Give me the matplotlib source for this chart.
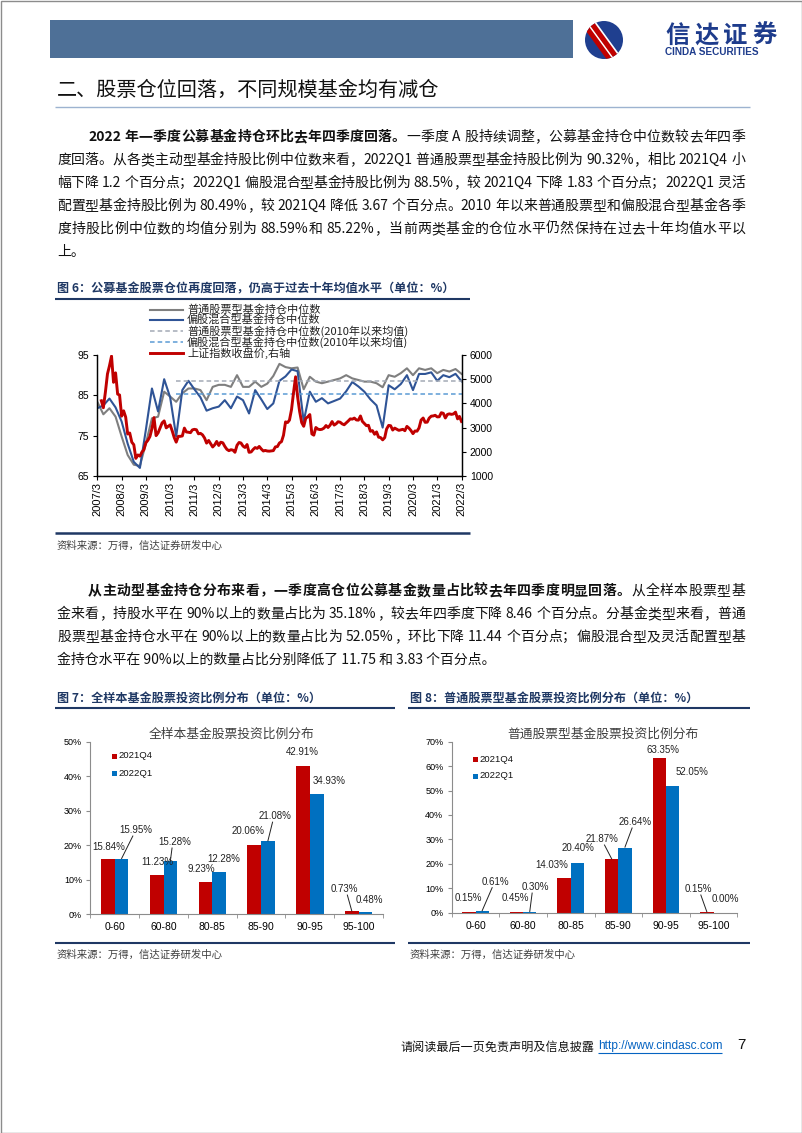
import re
import matplotlib
matplotlib.use("Agg")
import numpy as np
import pandas as pd
import matplotlib.pyplot as plt
from matplotlib.patches import Rectangle, Circle

W, H = 802, 1133
CJK = ["Noto Sans CJK SC", "DejaVu Sans"]
SANS = ["Liberation Sans", "DejaVu Sans"]
plt.rcParams["font.family"] = CJK
plt.rcParams["axes.unicode_minus"] = False

RED = "#C00000"
BLUE = "#0070C0"
NAVY = "#1F3864"

# ---- fig 6: quarterly median equity position (%), 2007Q1 .. 2022Q1
stock_fund_pos = [83.4, 80.3, 81.8, 79.7, 74.8, 70.2, 67.8, 67.5, 73.1, 79.3,
                  79.7, 85.9, 84.7, 83.4, 85.5, 86.7, 86.7, 86.3, 83.8, 87.1,
                  87.6, 87.6, 87.1, 90.0, 87.1, 87.1, 88.4, 87.1, 87.9, 89.8,
                  92.8, 92.0, 91.7, 91.9, 86.5, 89.6, 88.4, 88.0, 88.4, 88.8,
                  89.2, 90.0, 89.2, 88.8, 88.4, 88.4, 88.0, 87.0, 90.0, 89.6,
                  90.5, 91.7, 90.0, 91.7, 91.3, 91.7, 90.5, 91.3, 90.9, 91.52,
                  90.32]
hybrid_fund_pos = [81.8, 82.5, 84.2, 82.0, 78.5, 73.0, 68.5, 67.0, 76.5, 86.7,
                   81.0, 89.0, 84.5, 74.8, 86.3, 88.6, 86.5, 84.5, 81.2, 81.8,
                   82.2, 83.8, 81.8, 84.7, 83.8, 80.5, 86.3, 84.0, 81.6, 83.0,
                   88.6, 89.7, 91.4, 91.0, 78.5, 85.9, 83.4, 84.3, 83.0, 83.6,
                   84.2, 86.0, 88.3, 87.2, 85.9, 84.0, 82.5, 77.0, 87.5, 86.5,
                   87.8, 90.0, 86.3, 90.3, 90.3, 90.7, 88.6, 90.0, 89.5, 90.33,
                   88.5]
stock_mean_2010 = 88.59
hybrid_mean_2010 = 85.22

# Shanghai composite, monthly, from 2007/5
sh_2007 = [4109, 3820, 4471, 5218, 5552, 5954, 4871, 5262]
sh_2008 = [4383, 4348, 3473, 3693, 3433, 2736, 2775, 2397, 2293, 1729, 1871, 1821]
sh_2009 = [1991, 2082, 2373, 2477, 2633, 2959, 3412, 2667, 2779, 2996, 3195, 3277]
sh_2010 = [2989, 3051, 3110, 2871, 2592, 2398, 2638, 2639, 2655, 2979, 2820, 2808]
sh_2011 = [2791, 2905, 2928, 2911, 2743, 2762, 2701, 2568, 2359, 2468, 2333, 2199]
sh_2012 = [2292, 2428, 2262, 2396, 2373, 2225, 2103, 2047, 2086, 2069, 1980, 2269]
sh_2013 = [2385, 2365, 2237, 2178, 2300, 1979, 1994, 2098, 2175, 2141, 2220, 2116]
sh_2014 = [2033, 2056, 2033, 2026, 2039, 2048, 2202, 2217, 2364, 2420, 2683, 3235]
sh_2015 = [3210, 3310, 3748, 4442, 5100, 4277, 3664, 3206, 3053, 3383, 3445, 3539]
sh_2016 = [2738, 2688, 3004, 2938, 2917, 2930, 2979, 3085, 3005, 3100, 3250, 3104]
sh_2017 = [3159, 3242, 3223, 3155, 3117, 3192, 3273, 3361, 3349, 3393, 3317, 3307]
sh_2018 = [3481, 3259, 3169, 3082, 3095, 2847, 2876, 2725, 2821, 2603, 2588, 2494]
sh_2019 = [2585, 2941, 3091, 3078, 2899, 2979, 2933, 2886, 2905, 2929, 2872, 3050]
sh_2020 = [2977, 2880, 2750, 2860, 2852, 2985, 3310, 3396, 3218, 3225, 3392, 3473]
sh_2021 = [3483, 3509, 3442, 3447, 3615, 3591, 3397, 3544, 3568, 3547, 3564, 3640]
sh_2022 = [3361, 3462, 3253]
sh_index = (sh_2007 + sh_2008 + sh_2009 + sh_2010 + sh_2011 + sh_2012 + sh_2013
            + sh_2014 + sh_2015 + sh_2016 + sh_2017 + sh_2018 + sh_2019
            + sh_2020 + sh_2021 + sh_2022)

line_labels = ["普通股票型基金持仓中位数", "偏股混合型基金持仓中位数",
               "普通股票型基金持仓中位数(2010年以来均值)",
               "偏股混合型基金持仓中位数(2010年以来均值)",
               "上证指数收盘价,右轴"]

# ---- fig 7 / 8: distribution of equity weight (%)
bins = ["0-60", "60-80", "80-85", "85-90", "90-95", "95-100"]
all_q4 = [15.84, 11.23, 9.23, 20.06, 42.91, 0.73]
all_q1 = [15.95, 15.28, 12.28, 21.08, 34.93, 0.48]
stock_q4 = [0.15, 0.45, 14.03, 21.87, 63.35, 0.15]
stock_q1 = [0.61, 0.30, 20.40, 26.64, 52.05, 0.00]
series_names = ["2021Q4", "2022Q1"]

para1 = [
    "2022 年一季度公募基金持仓环比去年四季度回落。一季度 A 股持续调整，公募基金持仓中位数较去年四季",
    "度回落。从各类主动型基金持股比例中位数来看，2022Q1 普通股票型基金持股比例为 90.32%，相比 2021Q4 小",
    "幅下降 1.2 个百分点；2022Q1 偏股混合型基金持股比例为 88.5%，较 2021Q4 下降 1.83 个百分点；2022Q1 灵活",
    "配置型基金持股比例为 80.49%，较 2021Q4 降低 3.67 个百分点。2010 年以来普通股票型和偏股混合型基金各季",
    "度持股比例中位数的均值分别为 88.59%和 85.22%，当前两类基金的仓位水平仍然保持在过去十年均值水平以",
    "上。",
]
para2 = [
    "从主动型基金持仓分布来看，一季度高仓位公募基金数量占比较去年四季度明显回落。从全样本股票型基",
    "金来看，持股水平在 90%以上的数量占比为 35.18%，较去年四季度下降 8.46 个百分点。分基金类型来看，普通",
    "股票型基金持仓水平在 90%以上的数量占比为 52.05%，环比下降 11.44 个百分点；偏股混合型及灵活配置型基",
    "金持仓水平在 90%以上的数量占比分别降低了 11.75 和 3.83 个百分点。",
]

fig = plt.figure(figsize=(W / 100, H / 100), dpi=100)
renderer = fig.canvas.get_renderer()

# page layer in pixel coordinates (y down)
page = fig.add_axes([0, 0, 1, 1])
page.set_xlim(0, W)
page.set_ylim(H, 0)
page.axis("off")


def txt(x, y, s, size, **kw):
    kw.setdefault("va", "center")
    kw.setdefault("color", "#111111")
    return page.text(x, y, s, fontsize=size, **kw)


def hline(x0, x1, y, color, lw=1.0):
    page.plot([x0, x1], [y, y], color=color, lw=lw, solid_capstyle="butt")


def justify(x0, x1, y, s, size, n_bold=0, **kw):
    # spread one line of mixed CJK/latin text so it fills x0..x1
    em = size * 100 / 72
    toks = re.findall(r"[A-Za-z0-9.%]+|\s+|[^\sA-Za-z0-9.%]", s)
    items, pos = [], 0
    for tok in toks:
        weight = "bold" if pos < n_bold else "normal"
        pos += len(tok)
        if tok.isspace():
            items.append((None, em * 0.25))
            continue
        t = txt(x0, y, tok, size, fontweight=weight, **kw)
        if tok.isascii():
            w = t.get_window_extent(renderer).width
        else:
            w = em * len(tok)
        items.append((t, w))
    gap = (x1 - x0 - sum(w for _, w in items)) / max(len(items) - 1, 1)
    x = x0
    for t, w in items:
        if t is not None:
            t.set_x(x)
        x += w + gap


def paragraph(lines, y0, bold_len):
    for i, line in enumerate(lines):
        y = y0 + i * 23
        x0 = 88 if i == 0 else 57
        if i == len(lines) - 1:
            txt(x0, y, line, 10)
        else:
            justify(x0, 745, y, line, 10, n_bold=bold_len if i == 0 else 0)


# ---- page furniture
page.add_patch(Rectangle((0.5, 0.5), W - 1, H - 1, fill=False, ec="#8C8C8C", lw=1))
page.add_patch(Rectangle((50, 20), 523, 38, fc="#4E7097", ec="none"))
logo = Circle((604, 40), 19, fc="#1F3F8F", ec="none")
page.add_patch(logo)
for off, col, lw in [(-6, RED, 4.0), (-2, "white", 1.5), (2, RED, 4.0), (6, "white", 1.2)]:
    ln, = page.plot([586 + off, 618 + off], [18, 62], color=col, lw=lw, solid_capstyle="butt")
    ln.set_clip_path(logo)
justify(665, 777, 36, "信达证券", 17.5, n_bold=4, color="#1E3C8C")
txt(665, 52, "CINDA SECURITIES", 7.2, family=SANS, fontweight="bold", color="#1E3C8C")

txt(57, 90, "二、股票仓位回落，不同规模基金均有减仓", 14.5)
hline(55, 750, 107, "#9DB3D0", 1.0)

paragraph(para1, 137, len("2022 年一季度公募基金持仓环比去年四季度回落。"))
paragraph(para2, 591, len("从主动型基金持仓分布来看，一季度高仓位公募基金数量占比较去年四季度明显回落。"))

src = "资料来源：万得，信达证券研发中心"
txt(57, 289, "图 6：公募基金股票仓位再度回落，仍高于过去十年均值水平（单位：%）", 8.7,
    fontweight="bold", color=NAVY)
hline(55, 470, 299, NAVY, 1.5)
hline(55, 470, 533, NAVY, 1.8)
txt(57, 546, src, 7.5, color="#404040")

txt(57, 698, "图 7：全样本基金股票投资比例分布（单位：%）", 8.7, fontweight="bold", color=NAVY)
txt(410, 698, "图 8：普通股票型基金股票投资比例分布（单位：%）", 8.7, fontweight="bold", color=NAVY)
hline(55, 395, 708, NAVY, 1.5)
hline(408, 750, 708, NAVY, 1.5)
hline(55, 395, 943, NAVY, 1.5)
hline(408, 750, 943, NAVY, 1.5)
txt(57, 955, src, 7.5, color="#404040")
txt(410, 955, src, 7.5, color="#404040")

txt(400, 1047, "请阅读最后一页免责声明及信息披露", 8.7)
txt(598, 1046, "http://www.cindasc.com", 8.6, family=SANS, color="#0563C1")
hline(598, 722, 1053, "#0563C1", 0.8)
txt(737, 1045, "7", 11, family=SANS)


def px_rect(x0, y0, x1, y1):
    return [x0 / W, 1 - y1 / H, (x1 - x0) / W, (y1 - y0) / H]


# ---- fig 6 line chart
qdates = pd.period_range("2007Q1", periods=len(stock_fund_pos), freq="Q").to_timestamp(how="end").normalize()
mdates = pd.period_range("2007-05", periods=len(sh_index), freq="M").to_timestamp(how="end").normalize()

ax = fig.add_axes(px_rect(97.3, 355, 461.5, 476))
ax.patch.set_visible(False)
styles = [dict(color="#7F7F7F", lw=1.5), dict(color="#2F5496", lw=1.5),
          dict(color="#A3AAB5", lw=1.1, ls=(0, (3, 2))),
          dict(color="#5B9BD5", lw=1.1, ls=(0, (3, 2))),
          dict(color=RED, lw=2.1)]
ax.plot(qdates, stock_fund_pos, **styles[0])
ax.plot(qdates, hybrid_fund_pos, **styles[1])
ax.plot([qdates[13], qdates[-1]], [stock_mean_2010] * 2, **styles[2])
ax.plot([qdates[13], qdates[-1]], [hybrid_mean_2010] * 2, **styles[3])
ax2 = ax.twinx()
ax2.plot(mdates, sh_index, **styles[4])

ax.set_xlim(qdates[0], qdates[-1])
ax.set_ylim(65, 95)
ax.set_yticks([65, 75, 85, 95])
ax2.set_ylim(1000, 6000)
ax2.set_yticks(range(1000, 6001, 1000))
yearly = qdates[::4]
ax.set_xticks(yearly)
ax.set_xticklabels([f"{d.year}/{d.month}" for d in yearly], rotation=90)
for a in (ax, ax2):
    a.spines["top"].set_visible(False)
    for sp in a.spines.values():
        sp.set_linewidth(0.9)
    a.tick_params(direction="out", length=3, width=0.8, labelsize=7.5, pad=3)
    for lab in a.get_xticklabels() + a.get_yticklabels():
        lab.set_family(SANS)
ax.tick_params(axis="x", labelsize=8, pad=1.5)

for i, (lab, st) in enumerate(zip(line_labels, styles)):
    y = [310, 320, 331, 342, 353][i]
    page.plot([150, 183], [y, y], **st)
    txt(187, y, lab, 8, color="#222222")


# ---- fig 7 / 8 bar charts
def bar_chart(box, title, title_x, q4, q1, ymax, off_q4, off_q1, leaders, leg_x, leg_y):
    ax = fig.add_axes(px_rect(*box))
    ax.patch.set_visible(False)
    x = np.arange(len(bins))
    ax.bar(x - 0.14, q4, 0.28, color=RED)
    ax.bar(x + 0.14, q1, 0.28, color=BLUE)
    ax.set_xlim(-0.5, len(bins) - 0.5)
    ax.set_ylim(0, ymax)
    ticks = np.arange(0, ymax + 1, 10)
    ax.set_yticks(ticks)
    ax.set_yticklabels([f"{t}%" for t in ticks])
    ax.set_xticks(x)
    ax.set_xticklabels(bins)
    ax.set_xticks(np.arange(-0.5, len(bins)), minor=True)
    for s in ("top", "right"):
        ax.spines[s].set_visible(False)
    for s in ("left", "bottom"):
        ax.spines[s].set_color("#8C8C8C")
        ax.spines[s].set_linewidth(0.8)
    ax.tick_params(axis="y", length=3, color="#8C8C8C", labelsize=6.5, pad=3)
    ax.tick_params(axis="x", which="major", length=0, labelsize=7.5, pad=6)
    ax.tick_params(axis="x", which="minor", length=3, color="#8C8C8C")
    for lab in ax.get_xticklabels() + ax.get_yticklabels():
        lab.set_family(SANS)

    unit = ymax / (box[3] - box[1])  # value units per pixel
    for key, vals, offs, dx0 in (("q4", q4, off_q4, -0.14), ("q1", q1, off_q1, 0.14)):
        for i, (v, (dx, dy)) in enumerate(zip(vals, offs)):
            bx = i + dx0
            lx, ly = bx + dx, v + dy
            ax.text(lx, ly, f"{v:.2f}%", ha="center", va="center", fontsize=7,
                    family=SANS, color="#222222")
            if (key, i) in leaders:
                sign = 1 if bx > lx else -1
                ax.plot([bx, lx + sign * 0.06], [v + 0.5 * unit, ly - 6 * unit],
                        color="#222222", lw=0.7)

    txt(title_x, box[1] - 7, title, 9.2, ha="center", color="#404040")
    for j, (name, col) in enumerate(zip(series_names, (RED, BLUE))):
        y = leg_y + j * 17
        page.add_patch(Rectangle((leg_x - 2.5, y - 2.5), 5, 5, fc=col, ec="none"))
        txt(leg_x + 4, y, name, 6.8, family=SANS)


bar_chart((90.4, 741.6, 383, 914), "全样本基金股票投资比例分布", 232, all_q4, all_q1, 50,
          [(0.02, 3.6), (0.005, 3.9), (-0.083, 3.8), (-0.118, 3.9), (-0.014, 4.1), (-0.151, 6.5)],
          [(0.29, 8.4), (0.094, 5.6), (0.098, 3.7), (0.155, 7.3), (0.26, 3.6), (0.09, 3.7)],
          {("q1", 0), ("q1", 1), ("q1", 3), ("q4", 5)}, 114.5, 756)
bar_chart((451.7, 741.7, 737.3, 912.7), "普通股票型基金股票投资比例分布", 603, stock_q4, stock_q1, 70,
          [(-0.018, 5.85), (-0.03, 5.55), (-0.26, 5.5), (-0.21, 8.3), (0.08, 3.25), (-0.186, 9.55)],
          [(0.27, 12.1), (0.11, 10.2), (0.013, 6.2), (0.21, 10.5), (0.4, 5.55), (0.1, 5.6)],
          {("q1", 0), ("q1", 1), ("q4", 3), ("q1", 3), ("q4", 5)}, 475, 759)

fig.savefig("out.png", dpi=100, facecolor="white")
